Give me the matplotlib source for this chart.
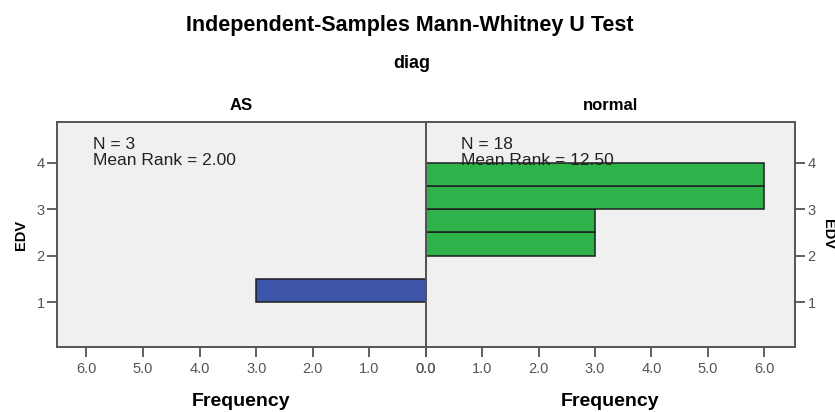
import numpy as np
import matplotlib
matplotlib.use('Agg')
from matplotlib import pyplot as plt

plt.rcParams['font.family'] = ['Liberation Sans', 'DejaVu Sans']

# histogram bins of EDV (width 0.5) and frequencies per group
bin_edges = [1.0, 1.5, 2.0, 2.5, 3.0, 3.5, 4.0]
freq_as = [3, 0, 0, 0, 0, 0]
freq_normal = [0, 0, 3, 3, 6, 6]
groups = ['AS', 'normal']
n_values = [3, 18]
mean_ranks = [2.00, 12.50]
x_ticks = [0, 1, 2, 3, 4, 5, 6]
y_ticks = [1, 2, 3, 4]

fig = plt.figure(figsize=(8.35, 4.12), dpi=100)
bg = '#f0f0f0'
tick_col = '#555555'

ax_l = fig.add_axes([57/835, 1 - 347/412, 369/835, 225/412])
ax_r = fig.add_axes([426/835, 1 - 347/412, 369/835, 225/412])

heights = np.diff(bin_edges)
lefts = bin_edges[:-1]
ax_l.barh(lefts, freq_as, height=heights, align='edge', color='#3c55a8',
          edgecolor='#1e1e1e', linewidth=1.1)
ax_r.barh(lefts, freq_normal, height=heights, align='edge', color='#2db34a',
          edgecolor='#1e1e1e', linewidth=1.1)

for ax in (ax_l, ax_r):
    ax.set_facecolor(bg)
    ax.set_ylim(0.03, 4.88)
    ax.set_yticks(y_ticks)
    ax.set_xticks(x_ticks)
    ax.set_xticklabels(['%.1f' % v for v in x_ticks])
    ax.tick_params(colors=tick_col, labelsize=10.5, length=7, width=1.3, pad=2)
    ax.tick_params(axis='x', pad=4)
    for s in ax.spines.values():
        s.set_color('#555555')
        s.set_linewidth(1.4)
    ax.set_xlabel('Frequency', fontsize=14, fontweight='bold', labelpad=12)

ax_l.set_xlim(6.52, 0)
ax_r.set_xlim(0, 6.55)
ax_r.yaxis.tick_right()
ax_r.yaxis.set_label_position('right')
ax_l.set_ylabel('EDV', fontsize=10.5, fontweight='bold', labelpad=6)
ax_r.set_ylabel('EDV', fontsize=10.5, fontweight='bold', rotation=270, labelpad=14)

for ax, g, n, mr, xs in zip((ax_l, ax_r), groups, n_values, mean_ranks, (5.89, 0.62)):
    ax.set_title(g, fontsize=12, fontweight='bold', pad=9)
    ax.text(xs, 4.40, 'N = %d' % n, fontsize=12.5, ha='left', va='center', color='#222222')
    ax.text(xs, 4.04, 'Mean Rank = %.2f' % mr, fontsize=12.5, ha='left', va='center', color='#222222')

fig.text(410/835, 1 - 26/412, 'Independent-Samples Mann-Whitney U Test',
         fontsize=15.5, fontweight='bold', ha='center', va='center')
fig.text(412/835, 1 - 63/412, 'diag', fontsize=13, fontweight='bold', ha='center', va='center')

fig.savefig('out.png', dpi=100)
